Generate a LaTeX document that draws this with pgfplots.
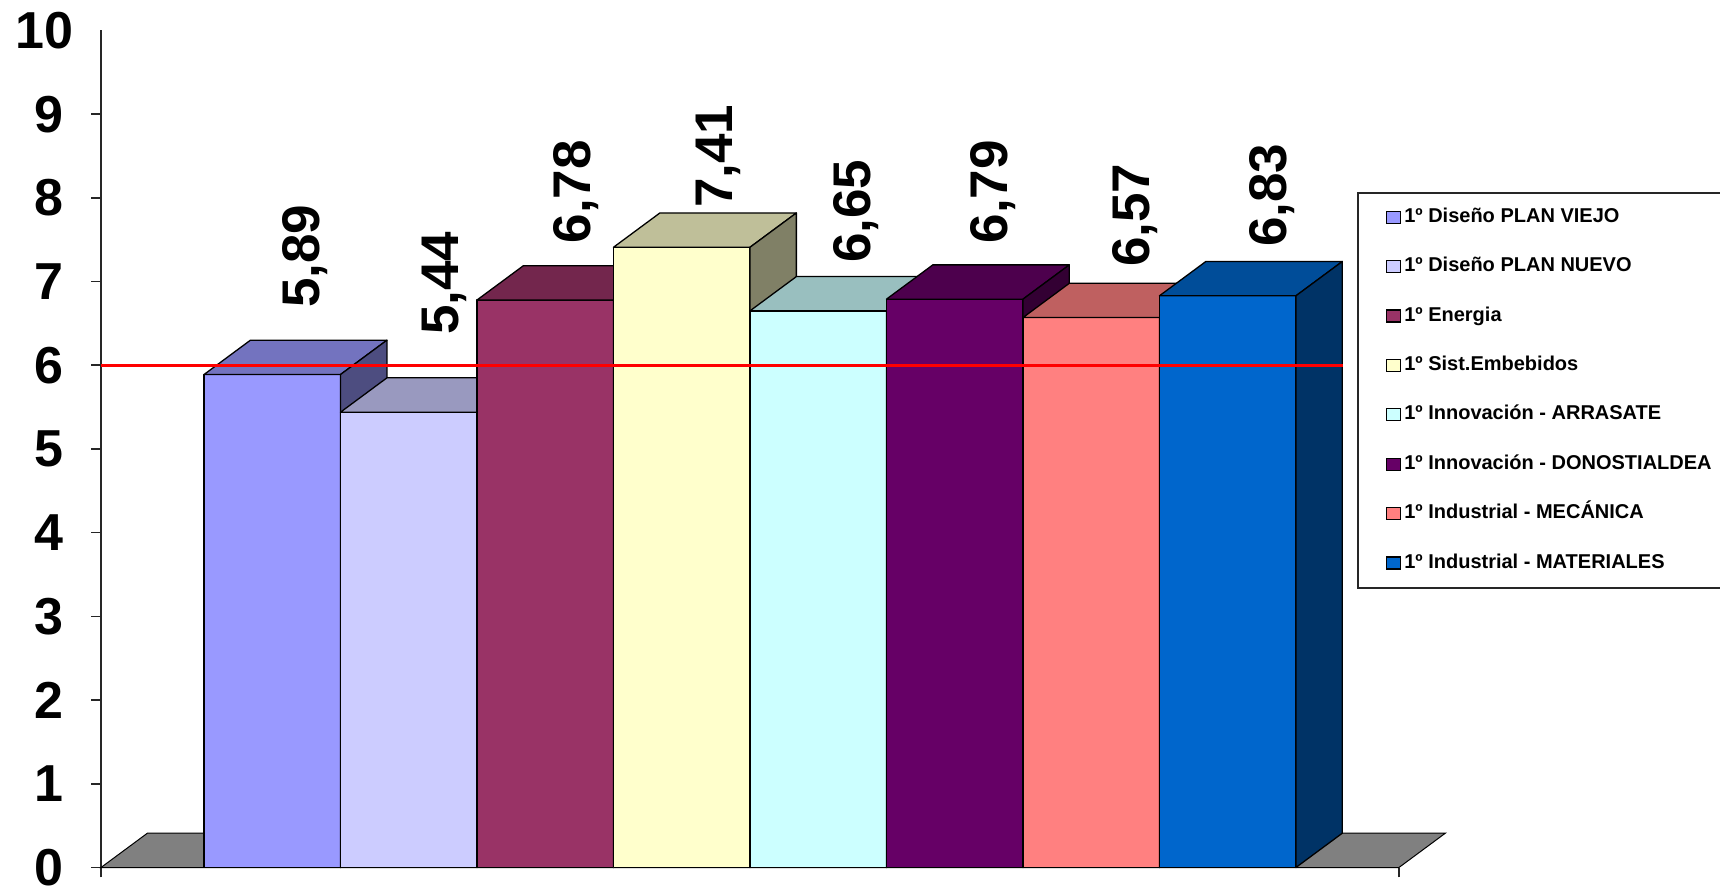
\documentclass[border=0pt]{standalone}
\usepackage{fontspec}
\setmainfont{Liberation Sans}
\usepackage{pgfplots}
\usepackage{pgfplotstable}
\pgfplotsset{compat=1.18}

\definecolor{c1f}{HTML}{9999FF}\definecolor{c1t}{HTML}{7373BF}\definecolor{c1s}{HTML}{4D4D80}
\definecolor{c2f}{HTML}{CCCCFF}\definecolor{c2t}{HTML}{9999BF}\definecolor{c2s}{HTML}{666680}
\definecolor{c3f}{HTML}{993366}\definecolor{c3t}{HTML}{73264D}\definecolor{c3s}{HTML}{4D1A33}
\definecolor{c4f}{HTML}{FFFFCC}\definecolor{c4t}{HTML}{BFBF99}\definecolor{c4s}{HTML}{808066}
\definecolor{c5f}{HTML}{CCFFFF}\definecolor{c5t}{HTML}{99BFBF}\definecolor{c5s}{HTML}{668080}
\definecolor{c6f}{HTML}{660066}\definecolor{c6t}{HTML}{4D004D}\definecolor{c6s}{HTML}{330033}
\definecolor{c7f}{HTML}{FF8080}\definecolor{c7t}{HTML}{BF6060}\definecolor{c7s}{HTML}{804040}
\definecolor{c8f}{HTML}{0066CC}\definecolor{c8t}{HTML}{004D99}\definecolor{c8s}{HTML}{003366}
\definecolor{floorgray}{HTML}{808080}

\newcommand\ticfont{\fontsize{52bp}{52bp}\selectfont\bfseries}
\newcommand\lblfont{\fontsize{53bp}{53bp}\selectfont\bfseries}
\newcommand\legfont{\fontsize{20bp}{20bp}\selectfont\bfseries}

% depth offsets (x in bar units, y in value units)
\def\dX{0.34}
\def\dY{0.41}

% 3D bar: #1 left x, #2 value, #3 front, #4 top, #5 side
\newcommand\tdbar[5]{%
  \pgfmathsetmacro\xa{#1}%
  \pgfmathsetmacro\xb{#1+1}%
  \pgfmathsetmacro\xc{#1+1+\dX}%
  \pgfmathsetmacro\xd{#1+\dX}%
  \pgfmathsetmacro\yt{#2}%
  \pgfmathsetmacro\yu{#2+\dY}%
  \addplot[forget plot, fill=#3, draw=black, line width=1.3bp, line join=round]
    coordinates {(\xa,0) (\xb,0) (\xb,\yt) (\xa,\yt)} -- cycle;
  \addplot[forget plot, fill=#4, draw=black, line width=1.3bp, line join=round]
    coordinates {(\xa,\yt) (\xb,\yt) (\xc,\yu) (\xd,\yu)} -- cycle;
  \addplot[forget plot, fill=#5, draw=black, line width=1.3bp, line join=round]
    coordinates {(\xb,0) (\xc,\dY) (\xc,\yu) (\xb,\yt)} -- cycle;
}

\pgfplotstableread{
x y label
1.494 6.685 5,89
2.513 6.363 5,44
3.480 7.455 6,78
4.524 7.880 7,41
5.529 7.222 6,65
6.535 7.455 6,79
7.575 7.174 6,57
8.582 7.413 6,83
}\labeltable

\begin{document}
\begin{tikzpicture}
\path[use as bounding box] (0,0) rectangle (1720bp,889bp);
\clip (0,0) rectangle (1720bp,889bp);
\begin{axis}[
  at={(101bp,21.5bp)}, anchor=south west,
  scale only axis, width=1298bp, height=837bp,
  xmin=0, xmax=9.51, ymin=0, ymax=10,
  axis lines=left,
  axis line style={-, line width=1.6bp, black!85},
  every tick/.style={line width=1.6bp, black!85},
  tick align=outside, major tick length=10bp,
  xtick={0,9.51}, xticklabels={},
  ytick={0,1,...,9},
  extra y ticks={10}, extra y tick style={major tick length=0pt},
  yticklabel style={font=\ticfont, inner ysep=0pt, xshift=-24bp},
  /pgf/number format/assume math mode=true,
  no markers,
  clip=false,
  legend cell align=left,
  legend image code/.code={\draw[#1, line width=1.2bp] (0bp,-6bp) rectangle (14bp,6bp); \path (18bp,0bp);},
  legend style={at={(0.9895,0.7891)}, anchor=north west, draw=none, fill=none,
    font=\legfont, inner sep=0pt, row sep=29.4bp,
    nodes={inner sep=0pt, text height=15bp, text depth=5bp}},
]
% floor
\addplot[forget plot, fill=floorgray, draw=black, line width=1bp]
  coordinates {(0,0) (9.51,0) (9.85,0.41) (0.34,0.41)} -- cycle;

\tdbar{0.755}{5.89}{c1f}{c1t}{c1s}
\tdbar{1.755}{5.44}{c2f}{c2t}{c2s}
\tdbar{2.755}{6.78}{c3f}{c3t}{c3s}
\tdbar{3.755}{7.41}{c4f}{c4t}{c4s}
\tdbar{4.755}{6.65}{c5f}{c5t}{c5s}
\tdbar{5.755}{6.79}{c6f}{c6t}{c6s}
\tdbar{6.755}{6.57}{c7f}{c7t}{c7s}
\tdbar{7.755}{6.83}{c8f}{c8t}{c8s}

% reference line
\addplot[forget plot, red, line width=3bp] coordinates {(0,6) (9.10,6)};

% value labels
\addplot[forget plot, draw=none, nodes near coords, point meta=explicit symbolic,
  every node near coord/.append style={rotate=90, anchor=west, inner sep=0pt, font=\lblfont, text=black}]
  table[x=x, y=y, meta=label] {\labeltable};

\addlegendimage{fill=c1f, draw=black}\addlegendentry{1º Diseño PLAN VIEJO}
\addlegendimage{fill=c2f, draw=black}\addlegendentry{1º Diseño PLAN NUEVO}
\addlegendimage{fill=c3f, draw=black}\addlegendentry{1º Energia}
\addlegendimage{fill=c4f, draw=black}\addlegendentry{1º Sist.Embebidos}
\addlegendimage{fill=c5f, draw=black}\addlegendentry{1º Innovación - ARRASATE}
\addlegendimage{fill=c6f, draw=black}\addlegendentry{1º Innovación - DONOSTIALDEA}
\addlegendimage{fill=c7f, draw=black}\addlegendentry{1º Industrial - MECÁNICA}
\addlegendimage{fill=c8f, draw=black}\addlegendentry{1º Industrial - MATERIALES}
\end{axis}
\draw[line width=2bp, black!85] (1358bp,696bp) rectangle (1780bp,301bp);
\end{tikzpicture}
\end{document}
